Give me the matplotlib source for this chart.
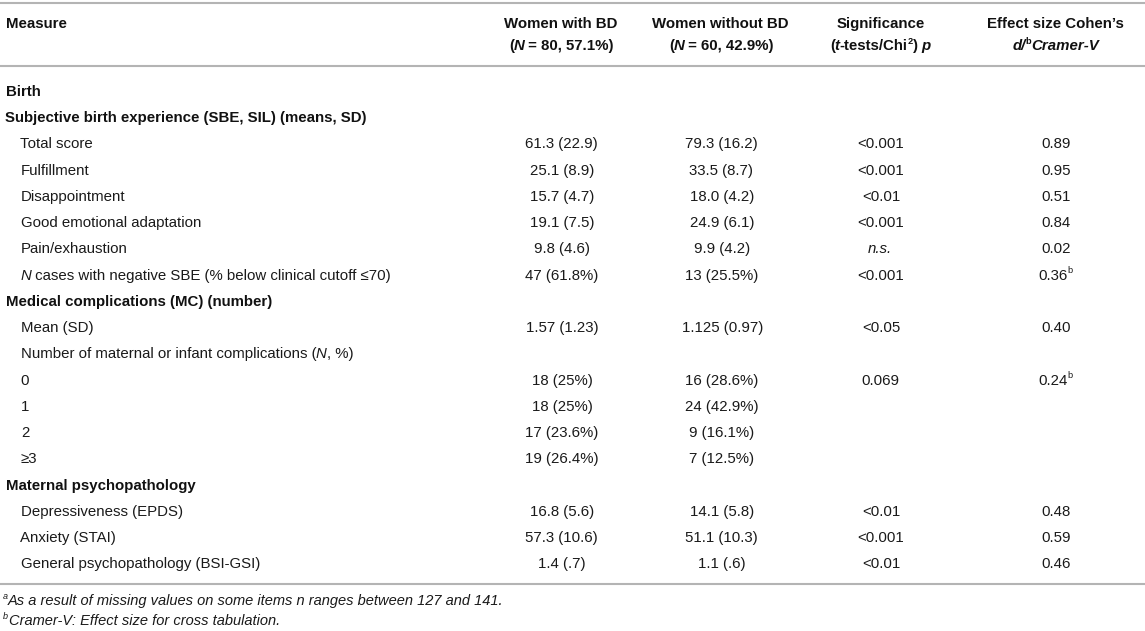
import re
import matplotlib.pyplot as plt
from matplotlib.font_manager import FontProperties, findfont, get_font
from matplotlib.ft2font import LOAD_NO_HINTING

FONT = 'Liberation Sans'
TEXT_COLOR = '#1a1a1a'
LINE_COLOR = '#b4b4b4'

# table content; *x* = italic, ^x^ = superscript
headers = [
    ('Women with BD', '(*N* = 80, 57.1%)'),
    ('Women without BD', '(*N* = 60, 42.9%)'),
    ('Significance', '(*t*-tests/Chi^2^) *p*'),
    ('Effect size Cohen\u2019s', '*d/*^b^*Cramer-V*'),
]

measures = [
    'Birth',
    'Subjective birth experience (SBE, SIL) (means, SD)',
    'Total score',
    'Fulfillment',
    'Disappointment',
    'Good emotional adaptation',
    'Pain/exhaustion',
    '*N* cases with negative SBE (% below clinical cutoff \u226470)',
    'Medical complications (MC) (number)',
    'Mean (SD)',
    'Number of maternal or infant complications (*N*, %)',
    '0',
    '1',
    '2',
    '\u22653',
    'Maternal psychopathology',
    'Depressiveness (EPDS)',
    'Anxiety (STAI)',
    'General psychopathology (BSI-GSI)',
]
is_heading = [1, 1, 0, 0, 0, 0, 0, 0, 1, 0, 0, 0, 0, 0, 0, 1, 0, 0, 0]

with_bd = ['', '', '61.3 (22.9)', '25.1 (8.9)', '15.7 (4.7)', '19.1 (7.5)', '9.8 (4.6)',
           '47 (61.8%)', '', '1.57 (1.23)', '', '18 (25%)', '18 (25%)', '17 (23.6%)',
           '19 (26.4%)', '', '16.8 (5.6)', '57.3 (10.6)', '1.4 (.7)']
without_bd = ['', '', '79.3 (16.2)', '33.5 (8.7)', '18.0 (4.2)', '24.9 (6.1)', '9.9 (4.2)',
              '13 (25.5%)', '', '1.125 (0.97)', '', '16 (28.6%)', '24 (42.9%)', '9 (16.1%)',
              '7 (12.5%)', '', '14.1 (5.8)', '51.1 (10.3)', '1.1 (.6)']
significance = ['', '', '<0.001', '<0.001', '<0.01', '<0.001', '*n.s.*',
                '<0.001', '', '<0.05', '', '0.069', '', '', '', '', '<0.01', '<0.001', '<0.01']
effect_size = ['', '', '0.89', '0.95', '0.51', '0.84', '0.02',
               '0.36^b^', '', '0.40', '', '0.24^b^', '', '', '', '', '0.48', '0.59', '0.46']

footnotes = [
    '^a^*As a result of missing values on some items n ranges between 127 and 141.*',
    '^b^*Cramer-V: Effect size for cross tabulation.*',
]

fig = plt.figure(figsize=(11.45, 6.31), dpi=100)
ax = fig.add_axes([0, 0, 1, 1])
ax.set_xlim(0, 1145)
ax.set_ylim(631, 0)
ax.axis('off')


def metrics(s, fs, style, weight):
    # pen advance of the string and left bearing of its first glyph, in pixels
    font = get_font(findfont(FontProperties(family=FONT, style=style, weight=weight)))
    font.set_size(fs, 100)
    adv = 0
    lsb = 0
    for k, c in enumerate(s):
        g = font.load_char(ord(c), flags=LOAD_NO_HINTING)
        if k == 0 and c != ' ':
            lsb = g.horiBearingX / 64
        adv += g.linearHoriAdvance / 65536
    return adv, lsb


def rich(x, y, markup, ha='left', weight='normal', size=10.8, italic=False, color=TEXT_COLOR):
    parts = [p for p in re.split(r'(\*[^*]+\*|\^[^^]+\^)', markup) if p]
    pieces = []
    total = 0
    for p in parts:
        sup = p.startswith('^')
        ital = italic or p.startswith('*')
        s = p[1:-1] if (sup or p.startswith('*')) else p
        fs = size * 0.62 if sup else size
        style = 'italic' if ital else 'normal'
        adv, lsb = metrics(s, fs, style, weight)
        pieces.append((s, fs, style, sup, adv, lsb))
        total += adv
    pen = x if ha == 'left' else x - total / 2
    base = y + size * 0.5
    for s, fs, style, sup, adv, lsb in pieces:
        ax.text(pen + lsb, base - (size * 0.6 if sup else 0), s, fontsize=fs, family=FONT,
                fontweight=weight, fontstyle=style, color=color, ha='left', va='baseline')
        pen += adv


# rules
for ly in [3, 66, 584]:
    ax.plot([0, 1145], [ly, ly], color=LINE_COLOR, lw=1.5, solid_capstyle='butt')

# header
col_x = [561, 721, 880, 1055]
rich(5, 23, 'Measure', weight='bold', color='#111111')
for cx, (h1, h2) in zip(col_x, headers):
    rich(cx, 23, h1, ha='center', weight='bold', color='#111111')
    rich(cx, 45, h2, ha='center', weight='bold', color='#111111')

# body
y0, dy = 90.5, 26.25
for i, label in enumerate(measures):
    y = y0 + dy * i
    if is_heading[i]:
        rich(5, y, label, weight='bold', color='#111111')
    else:
        rich(20, y, label)
    for cx, col in zip(col_x, [with_bd, without_bd, significance, effect_size]):
        if col[i]:
            rich(cx, y, col[i], ha='center')

# footnotes
rich(3, 600, footnotes[0], size=10.5, italic=True)
rich(3, 620, footnotes[1], size=10.5, italic=True)

plt.savefig('out.png', dpi=100)
plt.close()
